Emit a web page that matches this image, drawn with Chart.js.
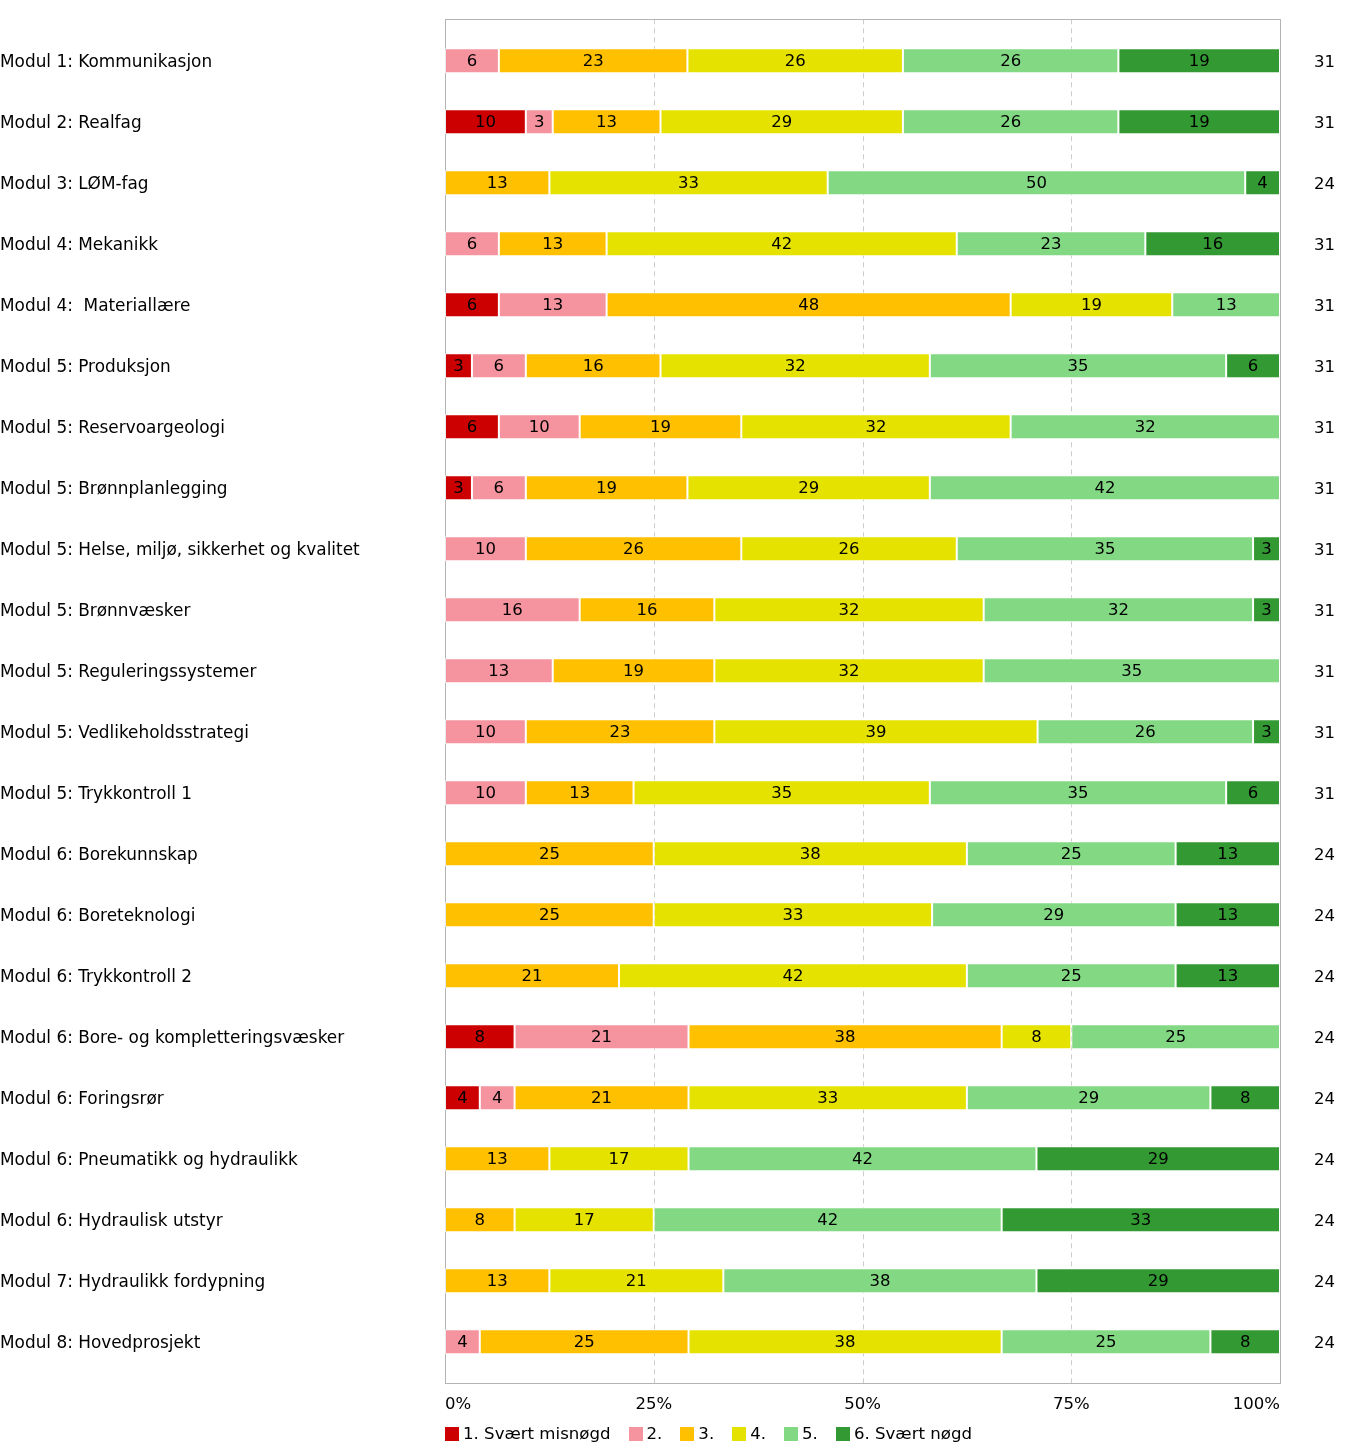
<!DOCTYPE html>
<html>
<head>
<meta charset="utf-8">
<script src="https://cdn.jsdelivr.net/npm/chart.js@4"></script>
<style>
  body { margin: 0; background: #fff; }
  #wrap { position: relative; width: 1347px; height: 1449px; }
  #legend {
    position: absolute; left: 445px; top: 1424px;
    display: flex; font: 16.6px "DejaVu Sans", sans-serif; color: #000;
  }
  #legend span.item { display: flex; align-items: center; margin-right: 18px; }
  #legend span.box { width: 14px; height: 14px; margin-right: 4px; display: inline-block; }
</style>
</head>
<body>
<div id="wrap">
  <canvas id="chart" width="1347" height="1449"></canvas>
  <div id="legend"></div>
</div>
<script>
// Survey answers per module (number of respondents in each grade)

const categories = [
    "Modul 1: Kommunikasjon",
    "Modul 2: Realfag",
    "Modul 3: LØM-fag",
    "Modul 4: Mekanikk",
    "Modul 4:  Materiallære",
    "Modul 5: Produksjon",
    "Modul 5: Reservoargeologi",
    "Modul 5: Brønnplanlegging",
    "Modul 5: Helse, miljø, sikkerhet og kvalitet",
    "Modul 5: Brønnvæsker",
    "Modul 5: Reguleringssystemer",
    "Modul 5: Vedlikeholdsstrategi",
    "Modul 5: Trykkontroll 1",
    "Modul 6: Borekunnskap",
    "Modul 6: Boreteknologi",
    "Modul 6: Trykkontroll 2",
    "Modul 6: Bore- og kompletteringsvæsker",
    "Modul 6: Foringsrør",
    "Modul 6: Pneumatikk og hydraulikk",
    "Modul 6: Hydraulisk utstyr",
    "Modul 7: Hydraulikk fordypning",
    "Modul 8: Hovedprosjekt"
];

const totals = [31, 31, 24, 31, 31, 31, 31, 31, 31, 31, 31, 31, 31, 24, 24, 24, 24, 24, 24, 24, 24, 24];

const grade1 = [0, 3, 0, 0, 2, 1, 2, 1, 0, 0, 0, 0, 0, 0, 0, 0, 2, 1, 0, 0, 0, 0];
const grade2 = [2, 1, 0, 2, 4, 2, 3, 2, 3, 5, 4, 3, 3, 0, 0, 0, 5, 1, 0, 0, 0, 1];
const grade3 = [7, 4, 3, 4, 15, 5, 6, 6, 8, 5, 6, 7, 4, 6, 6, 5, 9, 5, 3, 2, 3, 6];
const grade4 = [8, 9, 8, 13, 6, 10, 10, 9, 8, 10, 10, 12, 11, 9, 8, 10, 2, 8, 4, 4, 5, 9];
const grade5 = [8, 8, 12, 7, 4, 11, 10, 13, 11, 10, 11, 8, 11, 6, 7, 6, 6, 7, 10, 10, 9, 6];
const grade6 = [6, 6, 1, 5, 0, 2, 0, 0, 1, 1, 0, 1, 2, 3, 3, 3, 0, 2, 7, 8, 7, 2];

const seriesNames = ["1. Svært misnøgd", "2.", "3.", "4.", "5.", "6. Svært nøgd"];
const seriesColors = ["#cc0000", "#f5949f", "#ffc000", "#e6e200", "#83d883", "#339933"];

const xTicks = [0, 25, 50, 75, 100];

const FONT = '"DejaVu Sans", sans-serif';

function toPercent(counts) {
    return counts.map(function (c, i) { return c / totals[i] * 100; });
}

const allSeries = [grade1, grade2, grade3, grade4, grade5, grade6];

const datasets = allSeries.map(function (counts, i) {
    return {
        label: seriesNames[i],
        data: toPercent(counts),
        backgroundColor: seriesColors[i],
        borderColor: "rgba(255,255,255,0.7)",
        borderWidth: 1,
        borderSkipped: false,
        barPercentage: 0.41,
        categoryPercentage: 1
    };
});

// ===============================
// Frame + dashed grid
// ===============================

const framePad = 11;

const framePlugin = {
    id: "frame",
    beforeDatasetsDraw(chart) {
        const c = chart.ctx;
        const a = chart.chartArea;
        const xs = chart.scales.x;
        c.save();
        c.strokeStyle = "#cccccc";
        c.lineWidth = 1;
        c.setLineDash([5, 4]);
        [25, 50, 75].forEach(function (v) {
            const px = Math.round(xs.getPixelForValue(v)) + 0.5;
            c.beginPath();
            c.moveTo(px, a.top - framePad);
            c.lineTo(px, a.bottom + framePad);
            c.stroke();
        });
        c.setLineDash([]);
        c.strokeStyle = "#b4b4b4";
        c.strokeRect(Math.round(a.left) + 0.5, Math.round(a.top - framePad) + 0.5,
            Math.round(a.right - a.left), Math.round(a.bottom - a.top + 2 * framePad));
        c.restore();
    }
};

// ===============================
// Value labels inside bars
// ===============================

const valuePlugin = {
    id: "values",
    afterDatasetsDraw(chart) {
        const c = chart.ctx;
        c.save();
        c.font = "16.5px " + FONT;
        c.fillStyle = "#000";
        c.textAlign = "center";
        c.textBaseline = "middle";
        chart.data.datasets.forEach(function (ds, di) {
            const meta = chart.getDatasetMeta(di);
            meta.data.forEach(function (bar, i) {
                const v = ds.data[i];
                if (!v) return;
                c.fillText(Math.round(v), (bar.x + bar.base) / 2, bar.y + 1);
            });
        });
        c.restore();
    }
};

function fixWidth(w) {
    return function (scale) {
        scale.width = w;
        scale.paddingTop = 0;
        scale.paddingBottom = 0;
    };
}

const chart = new Chart(document.getElementById("chart"), {
    type: "bar",
    data: { labels: categories, datasets: datasets },
    options: {
        indexAxis: "y",
        responsive: false,
        animation: false,
        layout: { padding: { top: 30.3, bottom: 28.8, left: 0, right: 0 } },
        plugins: {
            legend: { display: false },
            tooltip: { enabled: false }
        },
        scales: {
            x: {
                stacked: true,
                min: 0,
                max: 100,
                afterBuildTicks(scale) {
                    scale.ticks = xTicks.map(function (v) { return { value: v }; });
                },
                afterFit(scale) { scale.height = 48; },
                grid: { display: false, drawTicks: false },
                border: { display: false },
                ticks: {
                    align: "inner",
                    padding: 22.3,
                    maxRotation: 0,
                    color: "#000",
                    font: { size: 16.5, family: FONT },
                    callback: function (v) { return v + "%"; }
                }
            },
            y: {
                stacked: true,
                position: "left",
                afterFit: fixWidth(445),
                grid: { display: false, drawTicks: false },
                border: { display: false },
                ticks: {
                    crossAlign: "far",
                    labelOffset: 2,
                    color: "#000",
                    font: { size: 16.9, family: FONT }
                }
            },
            y2: {
                type: "category",
                position: "right",
                labels: totals.map(String),
                offset: true,
                afterFit: fixWidth(67),
                grid: { display: false, drawTicks: false },
                border: { display: false },
                ticks: {
                    crossAlign: "near",
                    labelOffset: 2,
                    padding: 34,
                    color: "#000",
                    font: { size: 16.5, family: FONT }
                }
            }
        }
    },
    plugins: [framePlugin, valuePlugin]
});

// Legend

const legendEl = document.getElementById("legend");
seriesNames.forEach(function (name, i) {
    legendEl.innerHTML += '<span class="item"><span class="box" style="background:' +
        seriesColors[i] + '"></span>' + name + '</span>';
});
</script>
</body>
</html>
